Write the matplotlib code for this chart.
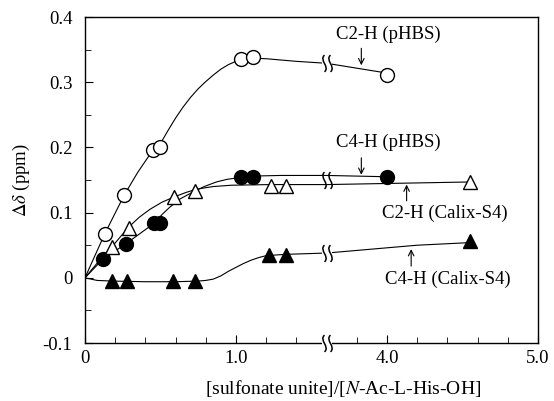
import numpy as np
import matplotlib
matplotlib.use("Agg")
import matplotlib.pyplot as plt
from matplotlib.path import Path
from matplotlib.transforms import offset_copy

plt.rcParams["font.family"] = "serif"
plt.rcParams["font.serif"] = ["Liberation Serif", "DejaVu Serif"]
plt.rcParams["mathtext.fontset"] = "stix"

# broken x axis: everything between 1.6 and 3.6 is cut out
BREAK_LO, BREAK_HI = 1.6, 3.6
GAP = BREAK_HI - BREAK_LO
FS = 13.5

# markers (x = [sulfonate]/[His], y = delta ppm)
c2_phbs_x = [0.13, 0.26, 0.45, 0.50, 1.03, 1.11, 4.0]
c2_phbs_y = [0.067, 0.127, 0.196, 0.201, 0.336, 0.339, 0.311]
c4_phbs_x = [0.12, 0.27, 0.46, 0.50, 1.03, 1.11, 4.0]
c4_phbs_y = [0.029, 0.052, 0.084, 0.084, 0.155, 0.155, 0.155]
c2_calix_x = [0.18, 0.29, 0.59, 0.73, 1.23, 1.33, 4.55]
c2_calix_y = [0.048, 0.077, 0.124, 0.133, 0.141, 0.141, 0.147]
c4_calix_x = [0.18, 0.28, 0.58, 0.73, 1.22, 1.33, 4.55]
c4_calix_y = [-0.005, -0.005, -0.005, -0.005, 0.035, 0.035, 0.056]

# hand-drawn guide curves
c2_phbs_curve_x = [0, 0.13, 0.26, 0.35, 0.45, 0.50, 0.55, 0.60, 0.65, 0.70, 0.75, 0.80,
                   0.85, 0.90, 0.95, 1.00, 1.05, 1.10, 1.20, 1.40, 1.60, 4.00]
c2_phbs_curve_y = [0, 0.067, 0.127, 0.162, 0.196, 0.206, 0.226, 0.245, 0.262, 0.277, 0.290, 0.301,
                   0.311, 0.320, 0.327, 0.332, 0.336, 0.337, 0.336, 0.332, 0.329, 0.314]
c4_phbs_curve_x = [0, 0.12, 0.27, 0.46, 0.51, 0.56, 0.63, 0.71, 0.79, 0.87, 0.94, 1.00,
                   1.10, 1.30, 1.60, 4.00]
c4_phbs_curve_y = [0, 0.029, 0.052, 0.084, 0.097, 0.108, 0.121, 0.131, 0.140, 0.147, 0.151, 0.153,
                   0.156, 0.157, 0.157, 0.155]
c2_calix_curve_x = [0, 0.10, 0.18, 0.29, 0.36, 0.43, 0.51, 0.59, 0.67, 0.74, 0.85, 0.97,
                    1.23, 1.33, 1.60, 4.55]
c2_calix_curve_y = [0, 0.028, 0.048, 0.078, 0.093, 0.105, 0.116, 0.124, 0.131, 0.136, 0.140, 0.142,
                    0.143, 0.143, 0.143, 0.147]
c4_calix_curve_x = [0, 0.08, 0.18, 0.40, 0.60, 0.75, 0.80, 0.85, 0.90, 0.95, 1.00, 1.05,
                    1.10, 1.15, 1.20, 1.33, 1.60, 4.20, 4.55]
c4_calix_curve_y = [0, -0.004, -0.005, -0.006, -0.006, -0.005, -0.004, -0.002, 0.003, 0.010, 0.016, 0.022,
                    0.027, 0.031, 0.034, 0.036, 0.038, 0.050, 0.054]

# where the break squiggles sit on the curves
break_marks_y = [0.329, 0.150, 0.038]

x_major = [0, 1.0, 4.0, 5.0]
x_major_labels = ["0", "1.0", "4.0", "5.0"]
x_minor = [0.2, 0.4, 0.6, 0.8, 1.2, 1.4, 3.8, 4.2, 4.4, 4.6, 4.8]
y_major = [-0.1, 0, 0.1, 0.2, 0.3, 0.4]
y_major_labels = ["-0.1", "0", "0.1", "0.2", "0.3", "0.4"]
y_minor = [-0.05, 0.05, 0.15, 0.25, 0.35]


def forward(x):
    x = np.asarray(x, dtype=float)
    return np.where(x <= BREAK_LO, x, np.where(x >= BREAK_HI, x - GAP, BREAK_LO))


def inverse(d):
    d = np.asarray(d, dtype=float)
    return np.where(d <= BREAK_LO, d, d + GAP)


squiggle = Path(
    [(0, -1), (0.7, -0.4), (-0.7, 0.4), (0, 1)],
    [Path.MOVETO, Path.CURVE4, Path.CURVE4, Path.CURVE4],
)


def draw_break(ax, fig, y, clip=True, size=12):
    ax.plot([BREAK_LO], [y], marker="_", ms=7, mew=3, color="white",
            zorder=4, clip_on=clip)
    for dx in (-2.2, 2.2):
        tr = offset_copy(ax.transData, fig=fig, x=dx, y=0, units="points")
        ax.plot([BREAK_LO], [y], marker=squiggle, ms=size, mfc="none",
                mec="black", mew=1.1, transform=tr, zorder=5, clip_on=clip)


fig = plt.figure(figsize=(5.54, 4.01), dpi=100)
ax = fig.add_axes([0.1534, 0.1446, 0.8177, 0.813])
ax.set_xscale("function", functions=(forward, inverse))

lw = 0.8
ax.plot(c2_phbs_curve_x, c2_phbs_curve_y, color="black", lw=lw, zorder=2)
ax.plot(c4_phbs_curve_x, c4_phbs_curve_y, color="black", lw=lw, zorder=2)
ax.plot(c2_calix_curve_x, c2_calix_curve_y, color="black", lw=lw, zorder=2)
ax.plot(c4_calix_curve_x, c4_calix_curve_y, color="black", lw=lw, zorder=2)

ax.plot(c2_phbs_x, c2_phbs_y, "o", ms=10, mfc="white", mec="black", mew=1.0, ls="none", zorder=6)
ax.plot(c4_phbs_x, c4_phbs_y, "o", ms=10, mfc="black", mec="black", mew=1.0, ls="none", zorder=6)
ax.plot(c2_calix_x, c2_calix_y, "^", ms=10.5, mfc="white", mec="black", mew=1.0, ls="none", zorder=6)
ax.plot(c4_calix_x, c4_calix_y, "^", ms=10.5, mfc="black", mec="black", mew=1.0, ls="none", zorder=6)

for y in break_marks_y:
    draw_break(ax, fig, y)
draw_break(ax, fig, -0.1, clip=False)

ax.set_xlim(0, 5.0)
ax.set_ylim(-0.1, 0.4)
ax.set_xticks(x_major)
ax.set_xticklabels(x_major_labels)
ax.set_xticks(x_minor, minor=True)
ax.set_yticks(y_major)
ax.set_yticklabels(y_major_labels)
ax.set_yticks(y_minor, minor=True)
ax.tick_params(which="both", direction="in", top=False, right=False, labelsize=FS)
ax.tick_params(axis="x", which="major", length=6, pad=5)
ax.tick_params(axis="y", which="major", length=6, pad=9)
ax.tick_params(which="minor", length=4)
for sp in ax.spines.values():
    sp.set_linewidth(1.0)

ax.set_xlabel("[sulfonate unite]/[$N$-Ac-L-His-OH]", fontsize=14)
ax.xaxis.set_label_coords(0.57, -0.108)
ax.set_ylabel(r"$\Delta\delta$ (ppm)", fontsize=FS, labelpad=8)

arrow = dict(arrowstyle="->", lw=0.8, color="black", shrinkA=0, shrinkB=0)
ax.text(4.01, 0.374, "C2-H (pHBS)", ha="center", va="center", fontsize=FS)
ax.annotate("", xy=(3.83, 0.326), xytext=(3.83, 0.352), arrowprops=arrow)
ax.text(4.01, 0.207, "C4-H (pHBS)", ha="center", va="center", fontsize=FS)
ax.annotate("", xy=(3.83, 0.158), xytext=(3.83, 0.184), arrowprops=arrow)
ax.text(4.38, 0.099, "C2-H (Calix-S4)", ha="center", va="center", fontsize=FS)
ax.annotate("", xy=(4.13, 0.143), xytext=(4.13, 0.118), arrowprops=arrow)
ax.text(4.40, -0.003, "C4-H (Calix-S4)", ha="center", va="center", fontsize=FS)
ax.annotate("", xy=(4.16, 0.044), xytext=(4.16, 0.018), arrowprops=arrow)

fig.savefig("out.png", dpi=100)
